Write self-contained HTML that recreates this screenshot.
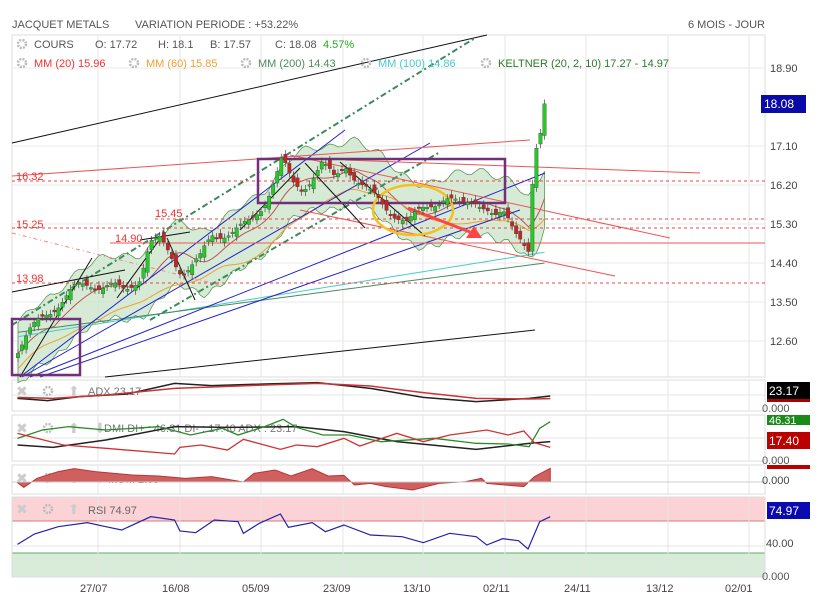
<!DOCTYPE html>
<html><head><meta charset="utf-8"><style>
body{margin:0;background:#fff;width:821px;height:606px;overflow:hidden;font-family:"Liberation Sans",sans-serif}
svg{position:absolute;left:0;top:0}
text{font-family:"Liberation Sans",sans-serif}
</style></head><body>
<svg id="s" width="821" height="606" xmlns="http://www.w3.org/2000/svg"></svg>
<script>
const S=document.getElementById('s');let h='';
const Y=p=>68+(18.9-p)*43.33;
h+='<rect x="12" y="35" width="753" height="342" fill="#fff" stroke="#ddd"/>';
const grid=[98,180,261,343,423,505,586,668,749];
const panels=[[35,377],[380,411],[415,461],[465,494],[497,577]];
h+='<rect x="12" y="497" width="753" height="24" fill="#fbd3d6"/><rect x="12" y="553" width="753" height="24" fill="#d9ecd9"/>';
h+='<line x1="12" y1="521" x2="765" y2="521" stroke="#d77"/><line x1="12" y1="553" x2="765" y2="553" stroke="#6a6"/>';
panels.forEach(([a,b])=>{h+=`<rect x="12" y="${a}" width="753" height="${b-a}" fill="none" stroke="#ddd"/>`;grid.forEach(x=>h+=`<line x1="${x}" y1="${a}" x2="${x}" y2="${b}" stroke="#e4e4e4"/>`)});
[68,146,185,224,263,302,341].forEach(y=>h+=`<line x1="12" y1="${y}" x2="765" y2="${y}" stroke="#e8e8e8"/>`);
[395,438,482,546].forEach(y=>h+=`<line x1="12" y1="${y}" x2="765" y2="${y}" stroke="#e4e4e4"/>`);
const kp=[[18,12.4],[30,12.8],[45,13.2],[60,13.5],[75,13.8],[90,13.9],[110,13.9],[125,13.7],[140,14.1],[150,14.9],[160,14.9],[172,14.5],[182,14.2],[200,14.5],[212,15.0],[225,15.1],[240,15.2],[250,15.3],[262,15.7],[272,16.2],[282,16.8],[292,16.2],[302,16.1],[312,16.4],[322,16.7],[335,16.3],[345,16.7],[358,16.3],[370,16.0],[385,15.7],[398,15.5],[408,15.3],[420,15.6],[432,15.8],[445,15.9],[460,15.7],[475,15.9],[485,15.7],[495,15.4],[505,15.5],[515,15.2],[523,15.0],[528,14.6],[534,16.8],[540,17.2],[545,18.05]];
function interp(x){for(let i=1;i<kp.length;i++)if(x<=kp[i][0]){const[a,b]=[kp[i-1],kp[i]];return a[1]+(b[1]-a[1])*(x-a[0])/(b[0]-a[0]);}return kp[kp.length-1][1]}
const xs=[],cl=[];for(let x=18;x<=545;x+=4.05){xs.push(x);cl.push(interp(x)+Math.sin(x*1.7)*0.12)}
const ma=n=>cl.map((c,i)=>{let s=0,k=0;for(let j=Math.max(0,i-n+1);j<=i;j++){s+=cl[j];k++}return s/k});
const m10=ma(10),m20=ma(20);
let up=[],lo=[];xs.forEach((x,i)=>{up.push([x,Y(m10[i]+0.7+Math.sin(i)*0.08)]);lo.push([x,Y(m10[i]-0.75+Math.cos(i*1.3)*0.08)])});
h+='<polygon points="'+up.concat(lo.slice().reverse()).map(p=>p.join(',')).join(' ')+'" fill="#cfe6cf" fill-opacity=".85" stroke="#5a9a5a" stroke-width=".8"/>';
const pl=(arr,c,w=1,ex='')=>h+=`<polyline points="${arr.map(p=>p.join(',')).join(' ')}" fill="none" stroke="${c}" stroke-width="${w}" ${ex}/>`;
pl(xs.map((x,i)=>[x,Y(m10[i])]),'#b55',1);
pl(xs.map((x,i)=>[x,Y(m20[i]-0.35)]),'#f0a030',1);
pl(xs.map((x,i)=>[x,Y(12.7+(x-18)/527*1.95)]),'#4cc',1);
pl(xs.map((x,i)=>[x,Y(12.8+(x-18)/527*1.6)]),'#4a8a60',1);
const L=(a,b,c,d,col,w=1,ex='')=>h+=`<line x1="${a}" y1="${b}" x2="${c}" y2="${d}" stroke="${col}" stroke-width="${w}" ${ex}/>`;
L(12,143,487,35,'#111');L(105,377,535,330,'#111');
L(12,325,475,38,'#3a8a5a',2,'stroke-dasharray="6,3,2,3"');L(150,320,440,152,'#3a8a5a',2,'stroke-dasharray="6,3,2,3"');
L(20,377,345,130,'#22c');L(22,377,430,143,'#22c');L(30,377,545,173,'#22c');L(40,377,520,210,'#22c');
L(12,176,530,140,'#e55');L(290,155,670,238,'#e55');L(300,210,615,276,'#e55');L(345,160,700,173,'#e55');
L(110,243,765,243,'#e55');
[[181,12],[228,12],[219,155],[283,12]].forEach(([y,x])=>L(x,y,765,y,'#e44',1,'stroke-dasharray="3,3"'));
L(12,233,220,285,'#e88',1,'stroke-dasharray="4,3,1,3"');
L(12,292,125,270,'#111');L(140,240,190,232,'#111');L(20,377,92,258,'#111');L(117,298,165,232,'#111');L(167,238,195,300,'#111');L(240,230,300,168,'#111');L(305,163,365,228,'#111');L(340,162,425,236,'#111');
h+='<rect x="258" y="159" width="247" height="44" fill="none" stroke="#72307a" stroke-width="2.5"/><rect x="12" y="319" width="68" height="56" fill="none" stroke="#72307a" stroke-width="2.5"/>';
h+='<ellipse cx="413" cy="210" rx="40" ry="25" fill="none" stroke="#f3c020" stroke-width="2.5"/>';
L(408,208,470,232,'#f44',3);h+='<polygon points="482,238 466,238 474,226" fill="#f44"/>';
xs.forEach((x,i)=>{const c=cl[i],o=i?cl[i-1]+Math.sin(i*2.3)*0.1:c-0.1;const g=c>=o;const hi=Math.max(o,c)+0.1,low=Math.min(o,c)-0.1;const col=g?'#2c2':'#c22';
h+=`<line x1="${x}" y1="${Y(hi)}" x2="${x}" y2="${Y(low)}" stroke="#444" stroke-width=".7"/><rect x="${x-1.7}" y="${Y(Math.max(o,c))}" width="3.4" height="${Math.max(1.5,Math.abs(Y(o)-Y(c)))}" fill="${col}" stroke="#444" stroke-width=".4"/>`});
const T=(x,y,t,c='#555',s=11,ex='')=>h+=`<text x="${x}" y="${y}" font-size="${s}" fill="${c}" ${ex}>${t}</text>`;
[['16.32',16,180],['15.25',16,228],['15.45',155,217],['14.90',115,242],['13.98',16,282]].forEach(([t,x,y])=>T(x,y,t,'#e33',11));
T(12,28,'JACQUET METALS');T(135,28,'VARIATION PERIODE : +53.22%');T(688,28,'6 MOIS - JOUR');
const gear=(x,y)=>h+=`<circle cx="${x}" cy="${y}" r="4" fill="none" stroke="#bbb" stroke-width="2.5" stroke-dasharray="2,1.2"/>`;
gear(22,44);T(34,48,'COURS');T(95,48,'O: 17.72');T(158,48,'H: 18.1');T(210,48,'B: 17.57');T(275,48,'C: 18.08');T(323,48,'4.57%','#2a2');
gear(22,63);T(34,67,'MM (20)  15.96','#e33');gear(134,63);T(146,67,'MM (60)  15.85','#f0a030');gear(246,63);T(258,67,'MM (200)  14.43','#4a8a60');gear(366,63);T(378,67,'MM (100)  14.86','#4cc');gear(486,63);T(498,67,'KELTNER (20, 2, 10)  17.27 - 14.97','#2a7a2a');
[['18.90',72],['17.10',150],['16.20',189],['15.30',228],['14.40',267],['13.50',306],['12.60',345]].forEach(([t,y])=>T(770,y,t,'#444'));
h+='<rect x="761" y="95" width="45" height="18" fill="#0a0aa8"/>';T(764,108,'18.08','#fff',12);
const icons=(y,n)=>{for(let k=0;k<n;k++){const x=22+k*26;if(k==0)T(x-6,y+5,'✖','#ccc',14);else if(k==1)gear(x,y);else T(x-6,y+5,k==2?'⬆':'⬇','#ccc',14)}};
icons(391,3);T(88,395,'ADX  23.17','#777');icons(428,4);T(104,432,'DMI DI+ : 46.31 DI- : 17.40 ADX : 23.17','#777');icons(478,4);T(108,483,'MOM  2.09','#777');icons(509,3);T(88,514,'RSI  74.97','#666');
const zc=(a,oy)=>a.map(([x,y])=>[x/1.89,y/3+oy]);
pl(zc([[33,85],[90,92],[150,80],[240,72],[330,40],[400,47],[500,42],[600,38],[700,55],[800,82],[900,95],[1000,85],[1040,78]],370),'#222',1.5);
pl(zc([[33,82],[100,85],[200,75],[330,55],[500,45],[600,40],[700,48],[800,68],[900,85],[1000,87],[1040,86]],370),'#c33',1.5);
pl(zc([[33,225],[100,232],[200,210],[330,170],[430,172],[560,170],[650,185],[750,215],[900,238],[1000,220],[1040,215]],370),'#222',1.5);
pl(zc([[33,205],[80,180],[130,170],[200,180],[300,170],[360,195],[420,175],[450,195],[500,170],[535,148],[560,172],[610,195],[660,195],[720,215],[820,205],[900,220],[960,222],[1000,230],[1020,175],[1040,155]],370),'#2a8a2a',1.3);
pl(zc([[33,190],[120,225],[200,235],[330,252],[340,232],[380,225],[430,240],[460,208],[530,238],[560,225],[600,230],[650,205],[680,228],[750,190],[800,215],[850,195],[920,180],[960,195],[990,183],[1010,218],[1040,232]],370),'#c33',1.3);
const mom=zc([[33,338],[45,352],[70,325],[110,305],[140,296],[180,305],[250,315],[300,318],[350,325],[400,320],[460,336],[480,310],[520,300],[550,318],[590,296],[620,318],[650,316],[670,345],[700,340],[730,350],[780,360],[830,340],[880,335],[910,325],[920,340],[990,350],[1010,320],[1040,295]],370);
h+=`<polygon points="${[[33/1.89,482]].concat(mom,[[1040/1.89,482]]).map(p=>p.join(',')).join(' ')}" fill="#d06060" stroke="#b33"/>`;
L(12,482,765,482,'#ccc');
pl(zc([[33,523],[65,492],[110,470],[165,458],[200,470],[230,480],[285,440],[330,450],[340,483],[370,488],[405,450],[450,455],[460,490],[490,460],[530,432],[545,472],[590,458],[615,485],[650,465],[700,495],[760,500],[800,518],[850,490],[900,500],[920,525],[950,506],[980,512],[998,537],[1020,455],[1040,440]],370),'#2222aa',1.2);
h+='<rect x="767" y="382" width="43" height="17" fill="#000"/>';T(769,395,'23.17','#fff',12);h+='<rect x="767" y="399" width="43" height="3" fill="#a00"/>';T(762,412,'0.000','#555',11);
h+='<rect x="767" y="415" width="43" height="10" fill="#1a8a1a"/>';T(769,424,'46.31','#fff',11);h+='<rect x="767" y="432" width="43" height="17" fill="#b00"/>';T(769,445,'17.40','#fff',12);T(762,464,'0.000','#555',11);h+='<rect x="767" y="465" width="43" height="4" fill="#b00"/>';
T(762,484,'0.000','#444');h+='<rect x="767" y="502" width="43" height="17" fill="#0a0ab0"/>';T(769,515,'74.97','#fff',12);T(766,547,'40.00','#444');T(762,580,'0.000','#555');
[['27/07',80],['16/08',162],['05/09',242],['23/09',323],['13/10',403],['02/11',483],['24/11',564],['13/12',646],['02/01',725]].forEach(([t,x])=>T(x,592,t,'#444'));
S.innerHTML=h;
</script>
</body></html>
